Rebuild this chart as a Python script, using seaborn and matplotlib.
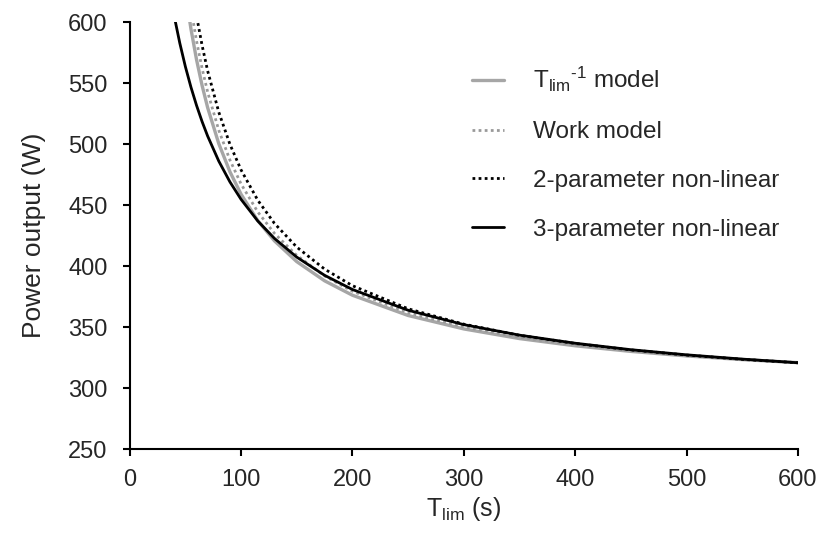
import numpy as np
import pandas as pd
import matplotlib
matplotlib.use("Agg")
import matplotlib.pyplot as plt
import seaborn as sns

# values (time in s, power in W)
t_inv = [50, 55, 60, 65, 70, 80, 90, 100, 115, 130, 150, 175, 200, 250, 300, 350, 400, 450, 500, 550, 600]
p_inv = [624.5, 594.4, 569.3, 548.1, 529.9, 500.4, 477.4, 459.0, 437.4, 420.8, 403.8, 388.1, 376.3,
         359.7, 348.7, 340.8, 334.9, 330.3, 326.6, 323.6, 321.1]

t_work = [50, 55, 60, 65, 70, 80, 90, 100, 115, 130, 150, 175, 200, 250, 300, 350, 400, 450, 500, 550, 600]
p_work = [643.2, 611.2, 584.6, 562.1, 542.7, 511.4, 487.0, 467.4, 444.5, 426.9, 408.9, 392.1, 379.6,
          362.0, 350.3, 341.9, 335.6, 330.8, 326.8, 323.7, 321.0]

t_2p = [55, 60, 65, 70, 80, 90, 100, 115, 130, 150, 175, 200, 250, 300, 350, 400, 450, 500, 550, 600]
p_2p = [633.9, 605.2, 580.9, 560.0, 526.2, 499.9, 478.9, 454.1, 435.1, 415.7, 397.7, 384.1,
        365.2, 352.6, 343.5, 336.8, 331.5, 327.3, 323.8, 321.0]

t_3p = [35, 40, 45, 50, 55, 60, 65, 70, 80, 90, 100, 115, 130, 150, 175, 200, 250, 300, 350, 400, 450, 500, 550, 600]
p_3p = [630.2, 604.7, 582.7, 563.5, 546.7, 531.8, 518.5, 506.6, 486.1, 469.1, 454.8, 437.1, 422.8,
        407.5, 392.6, 381.0, 364.0, 352.2, 343.6, 337.0, 331.7, 327.5, 324.0, 321.0]

sns.set_style("white")
plt.rcParams['font.family'] = ['Liberation Sans', 'DejaVu Sans']
plt.rcParams['mathtext.fontset'] = 'custom'
plt.rcParams['mathtext.rm'] = 'Liberation Sans'
plt.rcParams['mathtext.it'] = 'Liberation Sans'

fig = plt.figure(figsize=(8.26, 5.37), dpi=100)
ax = fig.add_axes([0.157, 0.163, 0.809, 0.796])

sns.lineplot(x=t_inv, y=p_inv, ax=ax, color='#a6a6a6', lw=2.4, label=r'T$_{\rm lim}$$^{\text{-1}}$ model')
sns.lineplot(x=t_work, y=p_work, ax=ax, color='#999999', lw=2.0, linestyle=(0, (1, 1.2)), label='Work model')
sns.lineplot(x=t_2p, y=p_2p, ax=ax, color='black', lw=2.0, linestyle=(0, (1, 1.2)), label='2-parameter non-linear')
sns.lineplot(x=t_3p, y=p_3p, ax=ax, color='black', lw=2.0, label='3-parameter non-linear')

ax.set_xlim(0, 600)
ax.set_ylim(250, 600)
ax.set_xticks(range(0, 601, 100))
ax.set_yticks(range(250, 601, 50))
ax.tick_params(axis='both', labelsize=17, length=5, width=1.5, direction='out', color='black',
               left=True, bottom=True)
ax.tick_params(axis='x', pad=9)
ax.tick_params(axis='y', pad=11)
for s in ['top', 'right']:
    ax.spines[s].set_visible(False)
for s in ['left', 'bottom']:
    ax.spines[s].set_color('black')
    ax.spines[s].set_linewidth(1.5)

ax.set_xlabel(r'T$_{\rm lim}$ (s)', fontsize=18, labelpad=3)
ax.set_ylabel('Power output (W)', fontsize=19, labelpad=16)

ax.legend(frameon=False, loc='upper left', bbox_to_anchor=(0.48, 0.95), fontsize=17.5,
          labelspacing=1.1, handlelength=1.3, handletextpad=1.2, borderpad=0.4)

fig.savefig('out.png', dpi=100)
